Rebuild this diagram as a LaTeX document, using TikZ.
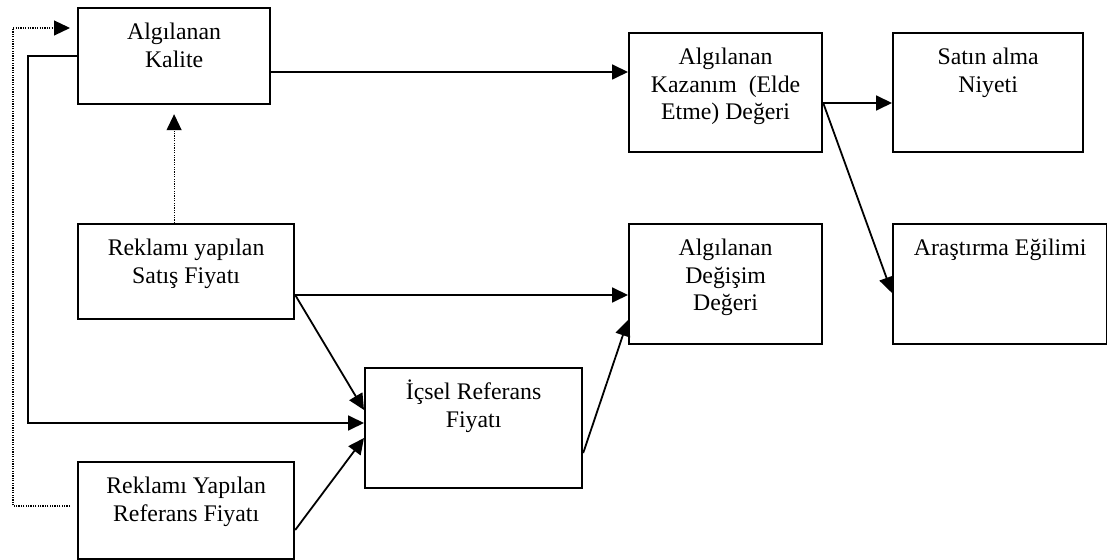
\documentclass[tikz,border=0pt]{standalone}
\usepackage{fontspec}
\setmainfont{Liberation Serif}
\usetikzlibrary{arrows.meta}
\begin{document}
\begin{tikzpicture}[x=0.5pt,y=-0.5pt,
  box/.style={draw, line width=1.1pt, rectangle, anchor=north west, inner sep=0pt},
  txt/.style={anchor=base, align=center, inner sep=0pt, font=\fontsize{11.9}{13.75}\selectfont},
  arr/.style={line width=0.9pt, -{Triangle[length=8pt,width=7.5pt]}},
  dotarr/.style={line width=0.6pt, dash pattern=on 0.6pt off 0.6pt, -{Triangle[length=8pt,width=7.5pt]}},
]
\useasboundingbox (0,0) rectangle (1107,560);

% boxes
\node[box, minimum width=96pt,   minimum height=48pt]   (kal) at (77,7) {};
\node[box, minimum width=96.5pt, minimum height=59.5pt] (kaz) at (628,32) {};
\node[box, minimum width=95pt,   minimum height=59.5pt] (niy) at (892,32) {};
\node[box, minimum width=108pt,  minimum height=47.5pt] (sat) at (77,223) {};
\node[box, minimum width=96.5pt, minimum height=60pt]   (deg) at (628,223) {};
\node[box, minimum width=107pt,  minimum height=60pt]   (ara) at (892,223) {};
\node[box, minimum width=108.5pt,minimum height=60pt]   (ics) at (364,367) {};
\node[box, minimum width=108pt,  minimum height=48.5pt] (ryr) at (77,461) {};

% texts near the top of each box (the base anchor is the last line's baseline)
\node[txt] (kalT) at ([yshift=-30.25pt]kal.north) {Algılanan\\Kalite};
\node[txt] (kazT) at ([yshift=-44pt]kaz.north) {Algılanan\\Kazanım\ \ (Elde\\Etme) Değeri};
\node[txt] (niyT) at ([yshift=-30.25pt]niy.north) {Satın alma\\Niyeti};
\node[txt] (satT) at ([yshift=-30.25pt]sat.north) {Reklamı yapılan\\Satış Fiyatı};
\node[txt] (degT) at ([yshift=-44pt]deg.north) {Algılanan\\Değişim\\Değeri};
\node[txt] (araT) at ([yshift=-16.5pt]ara.north) {Araştırma Eğilimi};
\node[txt] (icsT) at ([yshift=-30.25pt]ics.north) {İçsel Referans\\Fiyatı};
\node[txt] (ryrT) at ([yshift=-30.25pt]ryr.north) {Reklamı Yapılan\\Referans Fiyatı};

% connectors
\draw[arr] (kal.east |- 0,72) -- (kaz.west |- 0,72);
\coordinate (kazOut) at (kaz.east |- 0,103);
\draw[arr] (kazOut) -- (niy.west |- 0,103);
\draw[arr] (kazOut) -- (ara.west |- 0,293);
\coordinate (satOut) at (sat.east |- 0,295);
\draw[arr] (satOut) -- (deg.west |- 0,295);
\draw[arr] (satOut) -- (ics.west |- 0,410);
\draw[arr] (ryr.east |- 0,530) -- (ics.west |- 0,438);
\draw[arr] (ics.east |- 0,453) -- (deg.west |- 0,320);
\draw[arr] (kal.west) -| (28,423) -- (ics.west |- 0,423);
\draw[dotarr, shorten >=4.5pt] (kal.south |- sat.north) -- (kal.south);
\draw[dotarr, shorten <=3.5pt, shorten >=3.5pt] (ryr.west |- 0,506) -| (13,28) -- (kal.west |- 0,28);
\end{tikzpicture}
\end{document}
